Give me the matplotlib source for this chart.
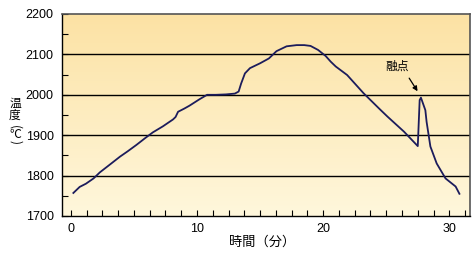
import numpy as np
import matplotlib
matplotlib.use("Agg")
import matplotlib.pyplot as plt
from matplotlib.ticker import MultipleLocator
from matplotlib.colors import LinearSegmentedColormap

# time (min) and temperature (deg C)
time_min = [0.2, 0.7, 1.2, 1.8, 2.3, 3.0, 3.9, 4.5, 5.2, 5.9, 6.5, 7.3, 8.1, 8.3,
            8.5, 9.0, 9.4, 10.2, 10.8, 11.5, 12.3, 13.0, 13.3, 13.5, 13.8, 14.2,
            15.0, 15.7, 16.3, 17.1, 17.9, 18.5, 19.0, 19.6, 20.2, 20.6, 21.0,
            21.9, 23.2, 24.5, 25.1, 26.4, 27.5, 27.65, 27.75, 28.1, 28.2, 28.5,
            29.0, 29.7, 30.5, 30.8]
temp_c = [1757, 1772, 1780, 1793, 1808, 1825, 1847, 1860, 1876, 1893, 1907, 1922,
          1939, 1945, 1958, 1966, 1973, 1989, 2000, 2000, 2001, 2003, 2008, 2028,
          2053, 2066, 2078, 2090, 2108, 2120, 2123, 2123, 2121, 2111, 2096, 2082,
          2070, 2049, 2004, 1964, 1946, 1909, 1873, 1987, 1993, 1962, 1933, 1872,
          1830, 1793, 1773, 1755]

y_grid = [1800, 1900, 2000, 2100]
x_ticks = [0, 10, 20, 30]
melt_label = "融点"
melt_point = (27.6, 2003)
# vertical y label: character, pixel y, rotation
ylabel_chars = [("温", 103, 0), ("度", 115, 0), ("(", 127, -90),
                ("℃", 134, 0), (")", 142, -90)]

plt.rcParams['font.family'] = ['Liberation Sans', 'DejaVu Sans']
jp = ['Noto Sans CJK JP', 'DejaVu Sans']

fig = plt.figure(figsize=(4.75, 2.58), dpi=100)
ax = fig.add_axes([62 / 475, 42 / 258, 407.5 / 475, 202 / 258])

x0, x1 = -0.7, 31.6
y0, y1 = 1700, 2200
ax.set_xlim(x0, x1)
ax.set_ylim(y0, y1)

# gradient background
cmap = LinearSegmentedColormap.from_list("bg", ["#fff7dc", "#fce2a4"])
grad = np.linspace(0, 1, 256).reshape(-1, 1)
ax.imshow(grad, extent=[x0, x1, y0, y1], origin="lower", aspect="auto",
          cmap=cmap, zorder=0)

for g in y_grid:
    ax.axhline(g, color="black", lw=1.0, zorder=1)

ax.plot(time_min, temp_c, color="#1c1c5c", lw=1.3, zorder=3)

ax.text(25.85, 2071, melt_label, family=jp, fontsize=8.5, ha="center",
        va="center", zorder=4)
ax.annotate("", xy=melt_point, xytext=(26.7, 2047),
            arrowprops=dict(arrowstyle="-|>", color="black", lw=0.9,
                            mutation_scale=7), zorder=4)

ax.xaxis.set_major_locator(MultipleLocator(10))
ax.xaxis.set_minor_locator(MultipleLocator(1.25))
ax.set_xticks(x_ticks)
ax.yaxis.set_major_locator(MultipleLocator(100))
ax.yaxis.set_minor_locator(MultipleLocator(50))
ax.tick_params(axis="both", which="both", direction="in", length=4,
               width=0.8, labelsize=9, color="black")
ax.tick_params(axis="x", which="both", pad=5)
ax.tick_params(axis="y", which="both", pad=6)

for s in ["left", "bottom"]:
    ax.spines[s].set_color("black")
    ax.spines[s].set_linewidth(1.0)
for s in ["top", "right"]:
    ax.spines[s].set_color("#555555")
    ax.spines[s].set_linewidth(1.2)

fig.text(262 / 475, 1 - 242 / 258, "時間（分）", family=jp, fontsize=9.5,
         ha="center", va="center")
for ch, py, rot in ylabel_chars:
    fig.text(15 / 475, 1 - py / 258, ch, family=jp, fontsize=8.5,
             ha="center", va="center", rotation=rot)

fig.savefig("out.png", dpi=100)
